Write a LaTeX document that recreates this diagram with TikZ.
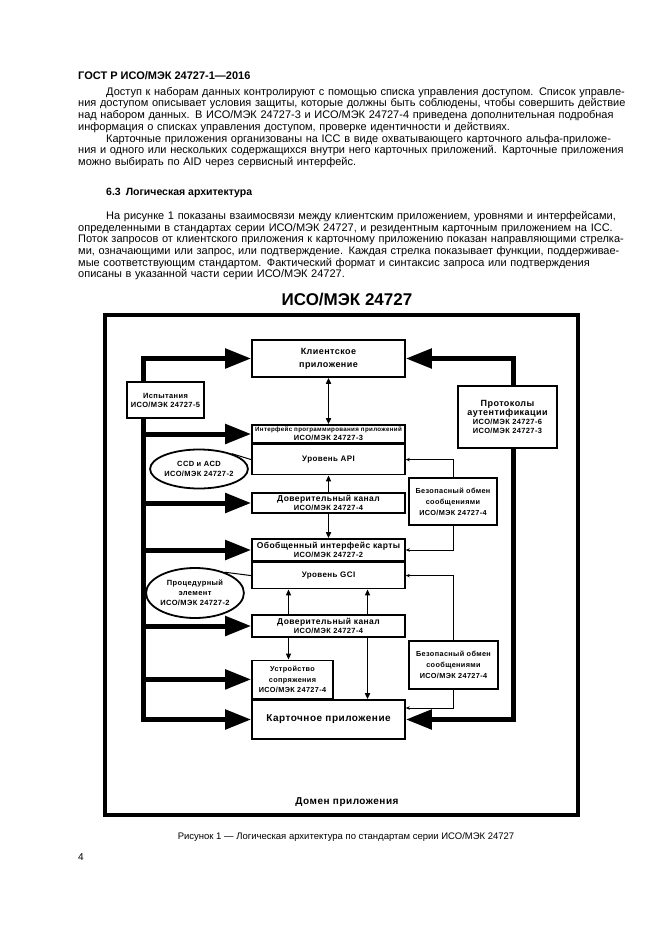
\documentclass[tikz,border=0pt]{standalone}
\usepackage{fontspec}
\setmainfont{Liberation Sans}
\newfontfamily\dfont{Liberation Sans}[LetterSpace=5.0]
\usetikzlibrary{arrows.meta,positioning,shapes.geometric}
\newcommand{\jline}[1]{\makebox[532pt][s]{#1}}

\begin{document}
\begin{tikzpicture}[x=1pt,y=-1pt,
  para/.style={anchor=north west,inner sep=0pt,text width=532pt,align=left,font=\fontsize{11}{11.7}\selectfont},
  box/.style={draw,line width=1.6pt,align=center,inner sep=0.5pt,font=\dfont\bfseries\fontsize{7.5}{9}\selectfont},
  colbox/.style={box,minimum width=153pt},
  oval/.style={ellipse,draw,line width=1.8pt,align=center,inner sep=0pt,font=\dfont\bfseries\fontsize{7.5}{10}\selectfont},
  bigarrow/.style={line width=5pt,-{Triangle[length=26pt,width=19pt]}},
  ulink/.style={line width=1.8pt,-{Triangle[length=6pt,width=5pt]}},
  dlink/.style={line width=1.8pt,{Triangle[length=6pt,width=5pt]}-{Triangle[length=6pt,width=5pt]}},
  tlink/.style={line width=0.9pt,-{Stealth[length=4pt,width=3.5pt]}}]

\useasboundingbox (0,0) rectangle (661,936);

% page text
\node[anchor=base west,inner sep=0pt,font=\bfseries\fontsize{11}{13}\selectfont] (gost) at (78,80) {ГОСТ Р ИСО/МЭК 24727-1—2016};
\node[para] (p1) at (78,87) {\jline{\hspace*{28pt}Доступ к наборам данных контролируют с помощью списка управления доступом. Список управле-}\\
\jline{ния доступом описывает условия защиты, которые должны быть соблюдены, чтобы совершить действие}\\
\jline{над набором данных. В ИСО/МЭК 24727-3 и ИСО/МЭК 24727-4 приведена дополнительная подробная}\\
информация о списках управления доступом, проверке идентичности и действиях.};
\node[para] (p2) at (78,134) {\jline{\hspace*{28pt}Карточные приложения организованы на ICC в виде охватывающего карточного альфа-приложе-}\\
\jline{ния и одного или нескольких содержащихся внутри него карточных приложений. Карточные приложения}\\
можно выбирать по AID через сервисный интерфейс.};
\node[anchor=base west,inner sep=0pt,font=\bfseries\fontsize{10.5}{12}\selectfont] (sec63) at (106,196) {6.3\hspace{5pt}Логическая архитектура};
\node[para] (p3) at (78,211) {\jline{\hspace*{28pt}На рисунке 1 показаны взаимосвязи между клиентским приложением, уровнями и интерфейсами,}\\
\jline{определенными в стандартах серии ИСО/МЭК 24727, и резидентным карточным приложением на ICC.}\\
\jline{Поток запросов от клиентского приложения к карточному приложению показан направляющими стрелка-}\\
\jline{ми, означающими или запрос, или подтверждение. Каждая стрелка показывает функции, поддерживае-}\\
\jline{мые соответствующим стандартом. Фактический формат и синтаксис запроса или подтверждения}\\
описаны в указанной части серии ИСО/МЭК 24727.};

% figure
\node[font=\bfseries\fontsize{17}{19}\selectfont,inner sep=0pt] (title) at (347,300) {ИСО/МЭК 24727};
\draw[line width=4pt] (105,315) rectangle (578,815);
\node[font=\dfont\bfseries\fontsize{10}{12}\selectfont] (domain) at (347,802) {Домен приложения};

\coordinate (ltrunk) at (143,0);
\coordinate (rtrunk) at (513,0);

\node[colbox,minimum height=37pt,font=\dfont\bfseries\fontsize{9}{13}\selectfont] (client) at (328.5,358.5) {Клиентское\\приложение};
\node[box,minimum width=77pt,minimum height=36pt] (test) at (165.5,400) {Испытания\\ИСО/МЭК 24727-5};
\node[box,minimum width=99pt,minimum height=62pt] (auth) at (507.5,417) {{\fontsize{9}{12}\selectfont Протоколы}\\{\fontsize{9}{12}\selectfont аутентификации}\\ИСО/МЭК 24727-6\\ИСО/МЭК 24727-3};

\node[colbox,minimum height=18pt] (apihead) at (328.5,434) {{\fontsize{6.2}{7}\selectfont Интерфейс программирования приложений}\\ИСО/МЭК 24727-3};
\node[colbox,minimum height=30pt,below=0pt of apihead,font=\dfont\bfseries\fontsize{8}{9}\selectfont] (apilevel) {Уровень API};
\node[oval,minimum width=88pt,minimum height=39pt] (ccd) at (199,469) {CCD и ACD\\ИСО/МЭК 24727-2};
\node[colbox,minimum height=20pt] (trust1) at (328.5,503) {{\fontsize{8.5}{9}\selectfont Доверительный канал}\\ИСО/МЭК 24727-4};
\node[box,minimum width=88pt,minimum height=47pt,font=\dfont\bfseries\fontsize{7.3}{11}\selectfont] (sec1) at (453,501.5) {Безопасный обмен\\сообщениями\\ИСО/МЭК 24727-4};

\node[colbox,minimum height=22pt] (gcihead) at (328.5,550) {{\fontsize{8.5}{9}\selectfont Обобщенный интерфейс карты}\\ИСО/МЭК 24727-2};
\node[colbox,minimum height=26pt,below=0pt of gcihead,font=\dfont\bfseries\fontsize{8}{9}\selectfont] (gcilevel) {Уровень GCI};
\node[oval,minimum width=91pt,minimum height=50pt] (proc) at (195,593) {Процедурный\\элемент\\ИСО/МЭК 24727-2};
\node[colbox,minimum height=22pt] (trust2) at (328.5,626) {{\fontsize{8.5}{9}\selectfont Доверительный канал}\\ИСО/МЭК 24727-4};
\node[box,minimum width=89pt,minimum height=48pt,font=\dfont\bfseries\fontsize{7.3}{11}\selectfont] (sec2) at (453.5,665) {Безопасный обмен\\сообщениями\\ИСО/МЭК 24727-4};

\node[colbox,minimum height=39pt,font=\dfont\bfseries\fontsize{10}{12}\selectfont] (card) at (328.5,719.5) {Карточное приложение};
\node[box,minimum width=81pt,minimum height=38pt,font=\dfont\bfseries\fontsize{7.3}{10.5}\selectfont,above right=0pt and 0pt of card.north west] (coupling) {Устройство\\сопряжения\\ИСО/МЭК 24727-4};

% thick connectors
\draw[bigarrow] (test.north -| ltrunk) |- (client.west);
\draw[bigarrow] (auth.north -| rtrunk) |- (client.east);
\draw[bigarrow] (test.south -| ltrunk) |- (card.west);
\draw[bigarrow] (auth.south -| rtrunk) |- (card.east);
\foreach \t in {apihead,trust1,gcihead,trust2,coupling}
  \draw[bigarrow] (\t.west -| ltrunk) -- (\t.west);

% column links
\draw[dlink] (client) -- (apihead);
\draw[ulink] (trust1) -- (apilevel);
\draw[ulink] (trust1) -- (gcihead);
\draw[ulink] ([xshift=-40pt]trust2.north) -- ([xshift=-40pt]gcilevel.south);
\draw[ulink] ([xshift=39pt]trust2.north) -- ([xshift=39pt]gcilevel.south);
\draw[ulink] ([xshift=-40pt]trust2.south) -- ([xshift=-40pt]trust2.south |- coupling.north);
\draw[ulink] ([xshift=39pt]trust2.south) -- ([xshift=39pt]trust2.south |- card.north);

% secure messaging
\draw[tlink] (sec1.north) |- (apilevel.east);
\draw[tlink] (sec1.south) |- (gcihead.east);
\draw[tlink] (sec2.north) |- (gcilevel.east);
\draw[tlink] (sec2.south) |- ([yshift=11.5pt]card.east);

% ovals
\draw[line width=1pt] (ccd.25) -- (apilevel.west);
\draw[line width=1pt] (proc.35) -- (gcilevel.west);

% caption
\node[inner sep=0pt,font=\fontsize{9.5}{11}\selectfont] (caption) at (346,837) {Рисунок 1 — Логическая архитектура по стандартам серии ИСО/МЭК 24727};
\node[anchor=base west,inner sep=0pt,font=\fontsize{10}{12}\selectfont] (pageno) at (78,860) {4};
\end{tikzpicture}
\end{document}
